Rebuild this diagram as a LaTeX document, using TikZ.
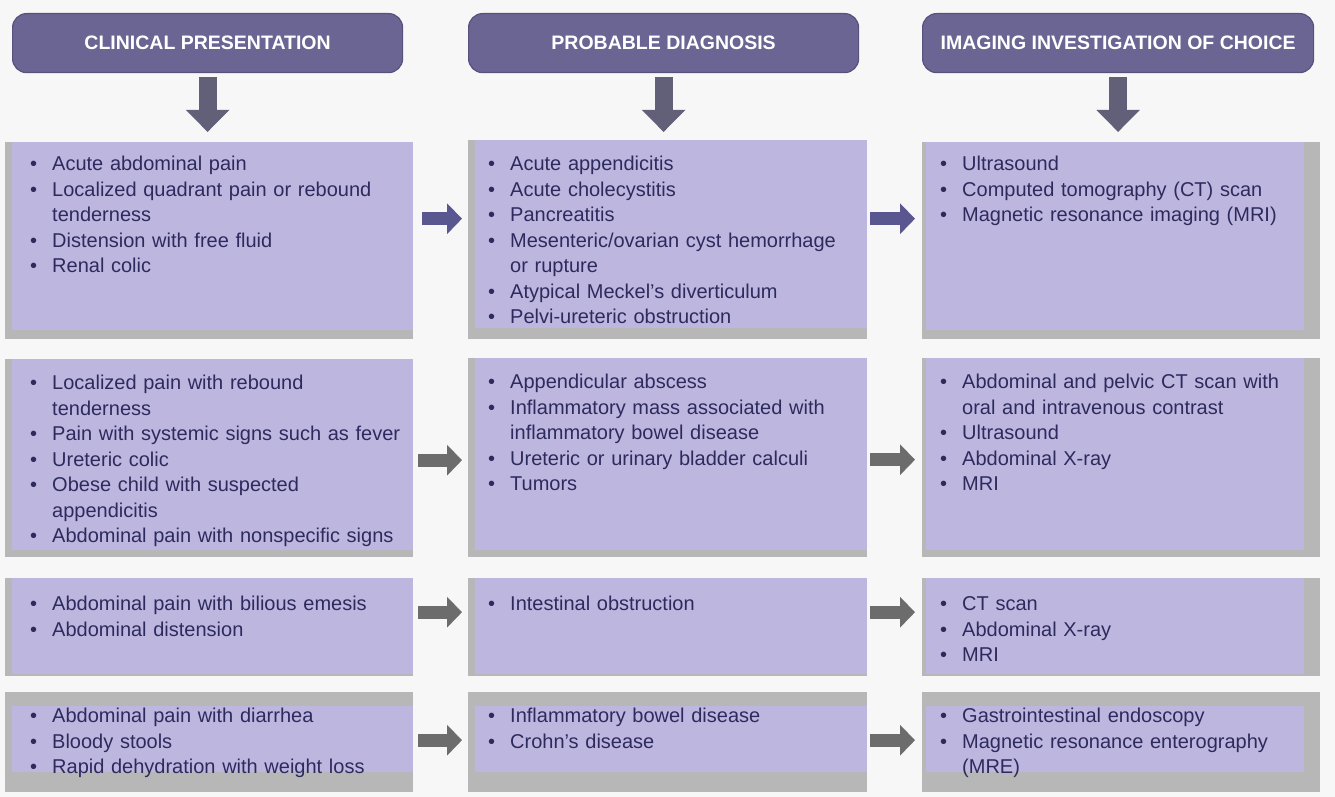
\documentclass[tikz,border=0pt]{standalone}
\usepackage{fontspec}
\setmainfont{Liberation Sans}
\usepackage{enumitem}
\usepackage{tikz}
\usetikzlibrary{positioning,arrows.meta}
\definecolor{hdrfill}{HTML}{6B6593}
\definecolor{hdredge}{HTML}{57517E}
\definecolor{boxlav}{HTML}{BDB7E0}
\definecolor{boxgray}{HTML}{B7B7B7}
\definecolor{listink}{HTML}{2D2A5E}
\definecolor{arrgray}{HTML}{6C6C6C}
\definecolor{arrpurp}{HTML}{5A5690}
\definecolor{arrdown}{HTML}{625F78}
\definecolor{pagebg}{HTML}{F7F7F7}
\setlist[itemize]{nosep,leftmargin=24pt,labelsep=15pt,label=\textbullet}
\tikzset{
	headbox/.style={rectangle, rounded corners=14pt, fill=hdrfill, draw=hdredge, line width=1.2pt, text=white, font=\bfseries\fontsize{19.5pt}{22pt}\selectfont, minimum height=59pt, inner sep=0pt, anchor=north west},
	rowbox/.style n args={4}{rectangle, fill=boxgray, inner sep=0pt, anchor=north west,
		path picture={\fill[boxlav] ([xshift=#1pt,yshift=-#2pt]path picture bounding box.north west) rectangle ([xshift=-#3pt,yshift=#4pt]path picture bounding box.south east);}},
	itemtxt/.style={inner sep=0pt, align=left, text=listink, font=\fontsize{20pt}{25.5pt}\selectfont},
	downarr/.style={draw=arrdown, line width=18pt, -{Triangle[width=42pt,length=22pt]}, shorten <=4pt, shorten >=10pt},
	sidearr/.style={draw=arrgray, line width=13pt, -{Triangle[width=30pt,length=15pt]}}
}

\begin{document}
\begin{tikzpicture}[x=1pt,y=-1pt]
	\fill[pagebg] (0,0) rectangle (1335,797);
	\useasboundingbox (0,0) rectangle (1335,797);
	
	% column heads
	\node[headbox, minimum width=390pt] (hclin) at (12,13) {CLINICAL PRESENTATION};
	\node[headbox, minimum width=390pt] (hdiag) at (468,13) {PROBABLE DIAGNOSIS};
	\node[headbox, minimum width=391pt] (himag) at (922,13) {IMAGING INVESTIGATION OF CHOICE};
	
	% boxes
	\node[rowbox={7}{0}{0}{9}, minimum width=408pt, minimum height=197pt] (l1) at (5,142) {};
	\node[rowbox={7}{0}{0}{11}, minimum width=399pt, minimum height=199pt] (m1) at (468,140) {};
	\node[rowbox={4}{0}{16}{9}, minimum width=398pt, minimum height=197pt] (r1) at (922,142) {};
	\node[rowbox={7}{0}{0}{7}, minimum width=408pt, minimum height=198pt] (l2) at (5,359) {};
	\node[rowbox={7}{0}{0}{7}, minimum width=399pt, minimum height=199pt] (m2) at (468,358) {};
	\node[rowbox={4}{0}{16}{7}, minimum width=398pt, minimum height=199pt] (r2) at (922,358) {};
	\node[rowbox={7}{0}{0}{2}, minimum width=408pt, minimum height=98pt] (l3) at (5,578) {};
	\node[rowbox={7}{0}{0}{2}, minimum width=399pt, minimum height=98pt] (m3) at (468,578) {};
	\node[rowbox={4}{0}{16}{2}, minimum width=398pt, minimum height=98pt] (r3) at (922,578) {};
	\node[rowbox={7}{14}{0}{20}, minimum width=408pt, minimum height=100pt] (l4) at (5,692) {};
	\node[rowbox={7}{14}{0}{20}, minimum width=399pt, minimum height=100pt] (m4) at (468,692) {};
	\node[rowbox={4}{14}{16}{20}, minimum width=398pt, minimum height=100pt] (r4) at (922,692) {};
	
	% lists
	\node[itemtxt, text width=376pt, below right=3pt and 23pt of l1.north west] (tl1) {\begin{itemize}
		\item Acute abdominal pain
		\item Localized quadrant pain or rebound tenderness
		\item Distension with free fluid
		\item Renal colic
	\end{itemize}};
	\node[itemtxt, text width=364pt, below right=5pt and 18pt of m1.north west] (tm1) {\begin{itemize}
		\item Acute appendicitis
		\item Acute cholecystitis
		\item Pancreatitis
		\item Mesenteric/ovarian cyst hemorrhage or rupture
		\item Atypical Meckel's diverticulum
		\item Pelvi-ureteric obstruction
	\end{itemize}};
	\node[itemtxt, text width=359pt, below right=3pt and 16pt of r1.north west] (tr1) {\begin{itemize}
		\item Ultrasound
		\item Computed tomography (CT) scan
		\item Magnetic resonance imaging (MRI)
	\end{itemize}};
	\node[itemtxt, text width=376pt, below right=5pt and 23pt of l2.north west] (tl2) {\begin{itemize}
		\item Localized pain with rebound tenderness
		\item Pain with systemic signs such as fever
		\item Ureteric colic
		\item Obese child with suspected appendicitis
		\item Abdominal pain with nonspecific signs
	\end{itemize}};
	\node[itemtxt, text width=364pt, below right=5pt and 18pt of m2.north west] (tm2) {\begin{itemize}
		\item Appendicular abscess
		\item Inflammatory mass associated with inflammatory bowel disease
		\item Ureteric or urinary bladder calculi
		\item Tumors
	\end{itemize}};
	\node[itemtxt, text width=359pt, below right=5pt and 16pt of r2.north west] (tr2) {\begin{itemize}
		\item Abdominal and pelvic CT scan with oral and intravenous contrast
		\item Ultrasound
		\item Abdominal X-ray
		\item MRI
	\end{itemize}};
	\node[itemtxt, text width=376pt, below right=7pt and 23pt of l3.north west] (tl3) {\begin{itemize}
		\item Abdominal pain with bilious emesis
		\item Abdominal distension
	\end{itemize}};
	\node[itemtxt, text width=364pt, below right=7pt and 18pt of m3.north west] (tm3) {\begin{itemize}
		\item Intestinal obstruction
	\end{itemize}};
	\node[itemtxt, text width=359pt, below right=7pt and 16pt of r3.north west] (tr3) {\begin{itemize}
		\item CT scan
		\item Abdominal X-ray
		\item MRI
	\end{itemize}};
	\node[itemtxt, text width=376pt, below right=5pt and 23pt of l4.north west] (tl4) {\begin{itemize}
		\item Abdominal pain with diarrhea
		\item Bloody stools
		\item Rapid dehydration with weight loss
	\end{itemize}};
	\node[itemtxt, text width=364pt, below right=5pt and 18pt of m4.north west] (tm4) {\begin{itemize}
		\item Inflammatory bowel disease
		\item Crohn's disease
	\end{itemize}};
	\node[itemtxt, text width=359pt, below right=5pt and 16pt of r4.north west] (tr4) {\begin{itemize}
		\item Gastrointestinal endoscopy
		\item Magnetic resonance enterography (MRE)
	\end{itemize}};
	
	% arrows
	\draw[downarr] (hclin.south) -- (hclin.south |- l1.north);
	\draw[downarr] (hdiag.south) -- (hdiag.south |- l1.north);
	\draw[downarr] (himag.south) -- (himag.south |- l1.north);
	
	\draw[sidearr, draw=arrpurp, shorten <=9pt, shorten >=6pt] ([yshift=22pt]l1.east) -- ([yshift=22pt]l1.east -| m1.west);
	\draw[sidearr, draw=arrpurp, shorten <=3pt, shorten >=7pt] ([yshift=21pt]m1.east) -- ([yshift=21pt]m1.east -| r1.west);
	\draw[sidearr, shorten <=5pt, shorten >=6pt] ([yshift=-2pt]l2.east) -- ([yshift=-2pt]l2.east -| m2.west);
	\draw[sidearr, shorten <=3pt, shorten >=7pt] ([yshift=-2pt]m2.east) -- ([yshift=-2pt]m2.east -| r2.west);
	\draw[sidearr, shorten <=5pt, shorten >=6pt] ([yshift=15pt]l3.east) -- ([yshift=15pt]l3.east -| m3.west);
	\draw[sidearr, shorten <=3pt, shorten >=7pt] ([yshift=15pt]m3.east) -- ([yshift=15pt]m3.east -| r3.west);
	\draw[sidearr, shorten <=5pt, shorten >=6pt] ([yshift=2pt]l4.east) -- ([yshift=2pt]l4.east -| m4.west);
	\draw[sidearr, shorten <=3pt, shorten >=7pt] ([yshift=2pt]m4.east) -- ([yshift=2pt]m4.east -| r4.west);
\end{tikzpicture}
\end{document}
